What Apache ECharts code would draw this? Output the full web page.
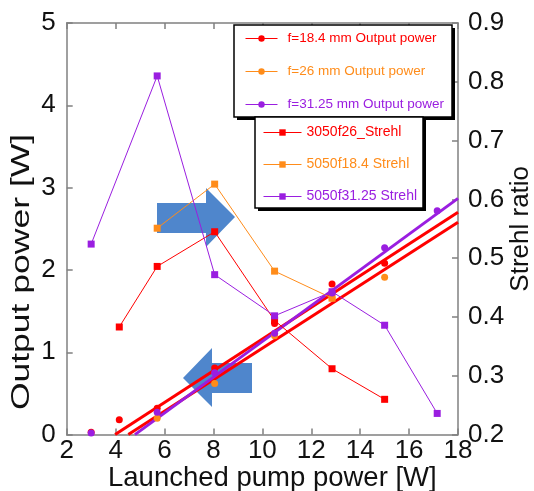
<!DOCTYPE html>
<html>
<head>
<meta charset="utf-8">
<script src="https://cdn.jsdelivr.net/npm/echarts@6/dist/echarts.min.js"></script>
<style>
    html, body { margin: 0; padding: 0; background: #fff; }
    #chart { width: 534px; height: 491px; }
</style>
</head>
<body>
<div id="chart"></div>
<script>

// Data
// ------------------------------

// Launched pump power [W]
var pumpPower = [3.0, 4.15, 5.7, 8.05, 10.5, 12.85, 15.0, 17.15];

// Output power [W] (left axis)
var power184 = [0.03, 0.18, 0.32, 0.81, 1.35, 1.83, 2.08, null];
var power26 = [null, null, 0.2, 0.62, 1.2, 1.66, 1.91, null];
var power3125 = [0.02, null, 0.27, 0.75, 1.23, 1.72, 2.27, 2.72];

// Strehl ratio (right axis)
var strehl3050f26 = [null, 0.383, 0.486, 0.545, 0.394, 0.312, 0.26, null];
var strehl5050f184 = [null, null, 0.551, 0.626, 0.478, 0.432, null, null];
var strehl5050f3125 = [0.524, null, 0.81, 0.472, 0.402, 0.443, 0.386, 0.236];

// Linear fits of output power: [start, end]
var fit184X = [3.98, 18], fit184Y = [0, 2.70];
var fit26X = [4.52, 18], fit26Y = [0, 2.58];
var fit3125X = [4.79, 18], fit3125Y = [0, 2.87];

// Axis ticks
var xTicks = [2, 18, 2];
var powerTicks = [0, 5, 1];
var strehlTicks = [0.2, 0.9, 0.1];


var RED = '#ff0000';
var ORANGE = '#ff8c1a';
var PURPLE = '#9a1ee0';
var FONT = 'Arial, "Liberation Sans", sans-serif';

// Pair x values with y values, dropping gaps
var pairs = function(xs, ys) {
    var out = [];
    for (var i = 0; i < ys.length; i++) {
        if (ys[i] !== null) out.push([xs[i], ys[i]]);
    }
    return out;
};

var powerSeries = function(name, color, values) {
    return {
        name: name,
        type: 'line',
        yAxisIndex: 0,
        data: pairs(pumpPower, values),
        symbol: 'circle',
        symbolSize: 7,
        itemStyle: { color: color },
        lineStyle: { color: color, width: 1, opacity: 0 },
        z: 4,
        silent: true
    };
};

var strehlSeries = function(name, color, values) {
    return {
        name: name,
        type: 'line',
        yAxisIndex: 1,
        data: pairs(pumpPower, values),
        symbol: 'rect',
        symbolSize: 7,
        itemStyle: { color: color },
        lineStyle: { color: color, width: 1 },
        z: 3,
        silent: true
    };
};

var fitSeries = function(name, color, xs, ys) {
    return {
        name: name,
        type: 'line',
        yAxisIndex: 0,
        data: pairs(xs, ys),
        showSymbol: false,
        symbol: 'none',
        lineStyle: { color: color, width: 3 },
        z: 3,
        silent: true
    };
};

var chart = echarts.init(document.getElementById('chart'));

var axisLine = { show: true, lineStyle: { color: '#808080', width: 1.5 } };
var axisTick = { show: true, inside: true, length: 6, lineStyle: { color: '#808080', width: 1.5 } };

chart.setOption({
    animation: false,
    backgroundColor: '#fff',
    grid: { left: 66.7, right: 76, top: 23, bottom: 56.4, containLabel: false, outerBoundsMode: 'none' },

    xAxis: [
        {
            type: 'value',
            min: xTicks[0], max: xTicks[1], interval: xTicks[2],
            axisLine: axisLine,
            axisTick: axisTick,
            splitLine: { show: false },
            axisLabel: { margin: 3, color: '#111', fontSize: 26, fontFamily: FONT },
            name: 'Launched pump power [W]',
            nameLocation: 'middle',
            nameMoveOverlap: false,
            nameGap: 30,
            nameTextStyle: { color: '#111', fontSize: 27.5, fontFamily: FONT, padding: [0, 0, 0, 20] }
        },
        {
            type: 'value',
            position: 'top',
            min: xTicks[0], max: xTicks[1], interval: xTicks[2],
            axisLine: axisLine,
            axisTick: axisTick,
            splitLine: { show: false },
            axisLabel: { show: false }
        }
    ],

    yAxis: [
        {
            type: 'value',
            position: 'left',
            min: powerTicks[0], max: powerTicks[1], interval: powerTicks[2],
            axisLine: axisLine,
            axisTick: axisTick,
            splitLine: { show: false },
            axisLabel: { margin: 11, color: '#111', fontSize: 26, fontFamily: FONT }
        },
        {
            type: 'value',
            position: 'right',
            min: strehlTicks[0], max: strehlTicks[1], interval: strehlTicks[2],
            axisLine: axisLine,
            axisTick: axisTick,
            splitLine: { show: false },
            axisLabel: {
                margin: 10, color: '#111', fontSize: 26, fontFamily: FONT,
                formatter: function(v) { return v.toFixed(1); }
            },
            name: 'Strehl ratio',
            nameLocation: 'middle',
            nameMoveOverlap: false,
            nameGap: 50,
            nameRotate: 90,
            nameTextStyle: { color: '#111', fontSize: 26, fontFamily: FONT }
        }
    ],

    legend: [
        {
            orient: 'vertical',
            left: 234, top: 25,
            padding: [6, 8, 6, 11],
            itemGap: 18,
            itemWidth: 32,
            itemHeight: 8,
            z: 8,
            selectedMode: false,
            lineStyle: { width: 1, opacity: 1 },
            textStyle: { fontSize: 13.5, lineHeight: 15, fontFamily: FONT, padding: [0, 0, 0, 5] },
            data: [
                { name: 'f=18.4 mm Output power', textStyle: { color: RED } },
                { name: 'f=26 mm Output power', textStyle: { color: ORANGE } },
                { name: 'f=31.25 mm Output power', textStyle: { color: PURPLE } }
            ]
        },
        {
            orient: 'vertical',
            left: 255, top: 117,
            padding: [8, 8, 6, 8],
            itemGap: 17,
            itemWidth: 38,
            itemHeight: 8,
            z: 8,
            selectedMode: false,
            lineStyle: { width: 1, opacity: 1 },
            textStyle: { fontSize: 14, lineHeight: 15, fontFamily: FONT },
            data: [
                { name: '3050f26_Strehl', textStyle: { color: RED } },
                { name: '5050f18.4 Strehl', textStyle: { color: ORANGE } },
                { name: '5050f31.25 Strehl', textStyle: { color: PURPLE } }
            ]
        }
    ],

    graphic: [
        // Right arrow (towards Strehl axis)
        {
            type: 'polygon', z: 1, silent: true,
            shape: { points: [[157, 203], [206, 203], [206, 188], [235, 217], [206, 247], [206, 233], [157, 233]] },
            style: { fill: '#4f86cc' }
        },
        // Left arrow (towards power axis)
        {
            type: 'polygon', z: 1, silent: true,
            shape: { points: [[252, 363], [212, 363], [212, 348], [183, 378], [212, 407], [212, 393], [252, 393]] },
            style: { fill: '#4f86cc' }
        },
        // Legend boxes with drop shadow
        { type: 'rect', z: 6, silent: true, shape: { x: 237, y: 28, width: 218, height: 92 }, style: { fill: '#000' } },
        { type: 'rect', z: 7, silent: true, shape: { x: 234, y: 25, width: 218, height: 92 }, style: { fill: '#fff', stroke: '#000', lineWidth: 1.5 } },
        { type: 'rect', z: 6, silent: true, shape: { x: 258, y: 120, width: 168, height: 91 }, style: { fill: '#000' } },
        { type: 'rect', z: 7, silent: true, shape: { x: 255, y: 117, width: 168, height: 91 }, style: { fill: '#fff', stroke: '#000', lineWidth: 1.5 } },
        // Left axis title (stretched like the original)
        {
            type: 'text', z: 5, silent: true,
            x: 22, y: 272,
            rotation: Math.PI / 2,
            scaleX: 1.42,
            style: {
                text: 'Output power [W]',
                fontSize: 25, fontFamily: FONT, fill: '#111',
                align: 'center', verticalAlign: 'middle',
                textAlign: 'center', textVerticalAlign: 'middle'
            }
        }
    ],

    series: [
        fitSeries('fit f=18.4', RED, fit184X, fit184Y),
        fitSeries('fit f=26', RED, fit26X, fit26Y),
        fitSeries('fit f=31.25', PURPLE, fit3125X, fit3125Y),
        powerSeries('f=18.4 mm Output power', RED, power184),
        powerSeries('f=26 mm Output power', ORANGE, power26),
        powerSeries('f=31.25 mm Output power', PURPLE, power3125),
        strehlSeries('3050f26_Strehl', RED, strehl3050f26),
        strehlSeries('5050f18.4 Strehl', ORANGE, strehl5050f184),
        strehlSeries('5050f31.25 Strehl', PURPLE, strehl5050f3125)
    ]
});

window.addEventListener('resize', function() {
    chart.resize();
});
</script>
</body>
</html>
